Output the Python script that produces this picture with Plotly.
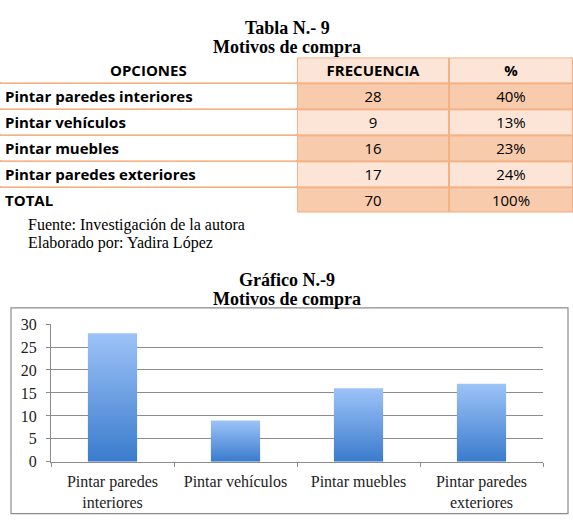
import plotly.graph_objects as go

# ---- data ----
opciones = ["Pintar paredes interiores", "Pintar vehículos", "Pintar muebles", "Pintar paredes exteriores"]
frecuencia = [28, 9, 16, 17]
porcentaje = ["40%", "13%", "23%", "24%"]
total_freq = 70
total_pct = "100%"
headers = ["OPCIONES", "FRECUENCIA", "%"]
bar_labels = ["Pintar paredes<br>interiores", "Pintar vehículos", "Pintar muebles", "Pintar paredes<br>exteriores"]
y_ticks = [0, 5, 10, 15, 20, 25, 30]

# ---- layout constants ----
W, H = 573, 524
def py(px):
    return 1 - px / H

SERIF = "Liberation Serif"
SANS = "Open Sans"
ORANGE = "#F4B183"
DARK = "#F8CBAD"
LIGHT = "#FCE4D6"
GRAY = "#8C8C8C"
col_edges = [0, 297, 449, 573]   # table column boundaries (px)

fig = go.Figure()

# ---- table as heatmap cells ----
n_rows = len(opciones) + 2  # header + rows + total
row_edges = list(range(n_rows + 1))
levels = [[0, 1, 1]]
texts = [["", "<b>%s</b>" % headers[1], "<b>%s</b>" % headers[2]]]
freq_col = [str(v) for v in frecuencia] + [str(total_freq)]
pct_col = porcentaje + [total_pct]
for i, (f, p) in enumerate(zip(freq_col, pct_col)):
    lvl = 2 if i % 2 == 0 else 1
    levels.append([0, lvl, lvl])
    texts.append(["", f, p])

fig.add_trace(go.Heatmap(
    x=col_edges, y=row_edges, z=levels,
    zmin=0, zmax=2,
    colorscale=[[0, "white"], [0.25, "white"], [0.25, LIGHT], [0.75, LIGHT],
                [0.75, DARK], [1, DARK]],
    showscale=False,
    xgap=2, ygap=2,
    text=texts, texttemplate="%{text}",
    textfont=dict(family=SANS, size=15, color="black"),
    hoverinfo="skip",
    xaxis="x2", yaxis="y2",
))

# orange border background behind the numeric columns
fig.add_shape(type="rect", xref="x2", yref="y2",
              x0=col_edges[1], x1=col_edges[-1], y0=row_edges[0], y1=row_edges[-1],
              fillcolor=ORANGE, line=dict(width=0), layer="below")

# first-column labels
fig.add_annotation(text="<b>%s</b>" % headers[0], xref="x2", yref="y2",
                   x=(col_edges[0] + col_edges[1]) / 2, y=0.5, showarrow=False,
                   font=dict(family=SANS, size=15, color="black"))
for i, lab in enumerate(opciones + ["TOTAL"]):
    fig.add_annotation(text="<b>%s</b>" % lab, xref="x2", yref="y2",
                       x=col_edges[0] + 3, y=i + 1.5, xanchor="left", showarrow=False,
                       font=dict(family=SANS, size=15, color="black"))

# ---- bars with vertical gradient ----
xs = list(range(len(frecuencia)))
half = 0.2
for i, v in zip(xs, frecuencia):
    fig.add_trace(go.Scatter(
        x=[i - half, i + half, i + half, i - half, i - half],
        y=[0, 0, v, v, 0],
        mode="lines",
        line=dict(width=0),
        fill="toself",
        fillgradient=dict(type="vertical",
                          colorscale=[[0, "#3A7BCC"], [1, "#9DC3F8"]]),
        hoverinfo="skip",
        showlegend=False,
        xaxis="x", yaxis="y",
    ))

fig.update_layout(
    width=W, height=H,
    margin=dict(l=0, r=0, t=0, b=0),
    paper_bgcolor="white",
    plot_bgcolor="white",
    showlegend=False,
    xaxis=dict(
        domain=[51 / W, 543 / W],
        range=[-0.5, len(frecuencia) - 0.5],
        tickvals=xs,
        ticktext=bar_labels,
        ticks="",
        ticklabelstandoff=5,
        showgrid=False,
        zeroline=False,
        showline=True,
        linecolor=GRAY,
        linewidth=1,
        tickfont=dict(family=SERIF, size=16, color="#222"),
        minor=dict(tickvals=[x - 0.5 for x in xs] + [xs[-1] + 0.5],
                   ticks="outside", ticklen=4, tickcolor=GRAY, showgrid=False),
        fixedrange=True,
    ),
    yaxis=dict(
        domain=[py(469), py(326.7)],
        range=[0, 30],
        tickvals=y_ticks,
        ticks="outside",
        ticklen=4,
        tickcolor=GRAY,
        ticklabelstandoff=6,
        showgrid=True,
        gridcolor=GRAY,
        gridwidth=1,
        zeroline=False,
        showline=True,
        linecolor=GRAY,
        tickfont=dict(family=SERIF, size=16, color="#222"),
        fixedrange=True,
    ),
    xaxis2=dict(
        domain=[0, 1], range=[col_edges[0], col_edges[-1]],
        showgrid=False, zeroline=False, showticklabels=False, ticks="",
        fixedrange=True,
    ),
    yaxis2=dict(
        domain=[py(211.7), py(51)], range=[row_edges[-1], row_edges[0]],
        tickvals=row_edges[1:-1], showgrid=True, gridcolor=ORANGE, gridwidth=2,
        zeroline=False, showticklabels=False, ticks="",
        fixedrange=True,
    ),
)

# chart border
fig.add_shape(type="rect", xref="paper", yref="paper",
              x0=11 / W, x1=568 / W, y0=py(522.5), y1=py(310),
              line=dict(color=GRAY, width=1.2), fillcolor="rgba(0,0,0,0)", layer="below")

def ann(text, x, y, size, bold=False, xanchor="center"):
    fig.add_annotation(text=("<b>%s</b>" % text) if bold else text,
                       x=x / W, y=py(y), xref="paper", yref="paper",
                       showarrow=False, xanchor=xanchor, yanchor="middle",
                       font=dict(family=SERIF, size=size, color="black"))

ann("Tabla N.- 9", 287, 21, 18, bold=True)
ann("Motivos de compra", 287, 40.5, 18, bold=True)
ann("Fuente: Investigación de la autora", 26, 224, 16, xanchor="left")
ann("Elaborado por: Yadira López", 26, 242.5, 16, xanchor="left")
ann("Gráfico N.-9", 287, 281, 18, bold=True)
ann("Motivos de compra", 287, 301, 18, bold=True)

fig.write_html("out.html")
